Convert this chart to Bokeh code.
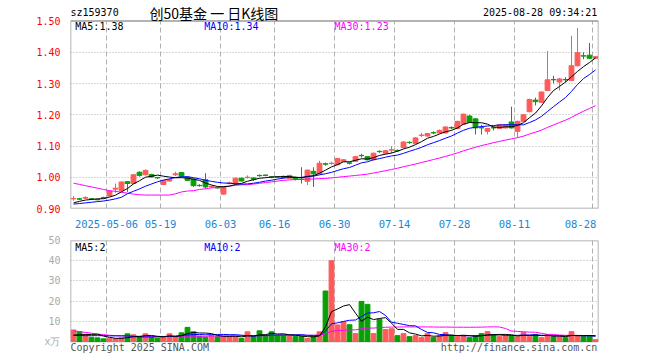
import numpy as np
import pandas as pd
from bokeh.plotting import figure
from bokeh.models import ColumnDataSource, FixedTicker, Label
from bokeh.layouts import column
from bokeh.embed import file_html
from bokeh.resources import INLINE

# ---------------- data ----------------
code = "sz159370"
title_text = "创50基金 一 日K线图"
stamp = "2025-08-28 09:34:21"

tick_idx = [6, 15, 25, 34, 44, 54, 64, 74, 87]
tick_labels = ["2025-05-06", "05-19", "06-03", "06-16", "06-30", "07-14", "07-28", "08-11", "08-28"]

opens = [0.931, 0.931, 0.933, 0.931, 0.929, 0.935, 0.940, 0.962, 0.957, 0.986,
         0.980, 1.016, 1.008, 1.009, 0.999, 0.977, 0.988, 1.008, 1.015, 1.000,
         0.994, 0.974, 0.992, 0.969, 0.967, 0.946, 0.980, 0.980, 0.997, 0.999,
         0.998, 1.006, 1.007, 1.001, 1.002, 1.003, 0.997, 1.000, 0.994, 0.987,
         1.019, 1.011, 1.043, 1.044, 1.040, 1.051, 1.046, 1.051, 1.070, 1.066,
         1.056, 1.083, 1.077, 1.087, 1.086, 1.095, 1.112, 1.108, 1.134, 1.132,
         1.143, 1.142, 1.142, 1.159, 1.156, 1.170, 1.196, 1.187, 1.159, 1.147,
         1.159, 1.156, 1.158, 1.177, 1.147, 1.179, 1.210, 1.247, 1.240, 1.278,
         1.313, 1.305, 1.313, 1.310, 1.357, 1.389, 1.391, 1.381]
highs = [0.940, 0.934, 0.939, 0.933, 0.931, 0.938, 0.957, 0.980, 0.986, 0.987,
         1.010, 1.019, 1.025, 1.011, 1.001, 0.991, 0.995, 1.018, 1.017, 1.002,
         0.996, 0.978, 1.013, 0.974, 0.970, 0.971, 0.986, 0.999, 0.999, 1.006,
         0.999, 1.009, 1.009, 1.003, 1.004, 1.005, 1.008, 1.002, 1.032, 1.024,
         1.032, 1.053, 1.047, 1.050, 1.062, 1.058, 1.049, 1.068, 1.075, 1.068,
         1.079, 1.086, 1.087, 1.100, 1.089, 1.115, 1.115, 1.128, 1.142, 1.142,
         1.147, 1.153, 1.163, 1.163, 1.181, 1.204, 1.200, 1.189, 1.168, 1.158,
         1.163, 1.170, 1.170, 1.226, 1.181, 1.202, 1.252, 1.255, 1.275, 1.404,
         1.325, 1.318, 1.320, 1.453, 1.478, 1.400, 1.430, 1.388]
lows = [0.925, 0.927, 0.930, 0.928, 0.926, 0.931, 0.939, 0.950, 0.955, 0.953,
        0.978, 1.002, 1.006, 0.999, 0.995, 0.975, 0.985, 1.004, 1.001, 0.988,
        0.969, 0.970, 0.964, 0.966, 0.963, 0.944, 0.977, 0.978, 0.986, 0.996,
        0.988, 1.002, 1.003, 0.997, 0.998, 0.997, 0.995, 0.990, 0.980, 0.975,
        0.969, 1.009, 1.037, 1.040, 1.038, 1.049, 1.041, 1.049, 1.063, 1.054,
        1.054, 1.078, 1.075, 1.076, 1.082, 1.093, 1.107, 1.106, 1.129, 1.130,
        1.138, 1.140, 1.140, 1.154, 1.154, 1.168, 1.174, 1.137, 1.137, 1.137,
        1.150, 1.154, 1.156, 1.156, 1.128, 1.177, 1.208, 1.230, 1.238, 1.276,
        1.300, 1.278, 1.305, 1.308, 1.355, 1.378, 1.379, 1.379]
closes = [0.932, 0.930, 0.935, 0.930, 0.928, 0.934, 0.956, 0.965, 0.985, 0.980,
          1.008, 1.006, 1.022, 1.001, 0.998, 0.990, 0.992, 1.011, 1.003, 0.990,
          0.973, 0.973, 0.969, 0.971, 0.966, 0.969, 0.982, 0.997, 0.988, 1.000,
          0.994, 1.005, 1.006, 1.000, 1.001, 0.999, 1.006, 0.993, 0.993, 1.023,
          1.011, 1.045, 1.042, 1.045, 1.060, 1.056, 1.045, 1.066, 1.069, 1.056,
          1.077, 1.082, 1.085, 1.088, 1.085, 1.113, 1.111, 1.126, 1.135, 1.140,
          1.142, 1.150, 1.161, 1.158, 1.179, 1.202, 1.176, 1.158, 1.158, 1.156,
          1.158, 1.168, 1.168, 1.158, 1.179, 1.200, 1.249, 1.242, 1.273, 1.312,
          1.312, 1.315, 1.312, 1.357, 1.399, 1.388, 1.381, 1.386]
volumes = [5.7, 4.8, 3.6, 2.1, 1.8, 1.3, 1.4, 1.4, 1.8, 3.8,
           3.3, 2.0, 3.8, 2.1, 1.6, 2.4, 3.8, 2.4, 4.3, 7.0,
           4.8, 2.6, 2.2, 3.0, 2.4, 2.6, 2.5, 2.5, 1.5, 4.8,
           2.4, 5.3, 3.0, 4.8, 3.0, 3.0, 2.5, 2.5, 2.5, 1.5,
           2.5, 4.8, 25.0, 40.0, 8.2, 9.8, 8.3, 3.9, 19.8, 18.4,
           3.9, 11.0, 5.9, 6.3, 2.9, 3.9, 2.4, 2.9, 1.9, 3.9,
           2.0, 2.9, 4.4, 2.9, 2.4, 2.9, 1.9, 2.9, 3.9, 4.9,
           3.4, 2.4, 2.9, 2.9, 2.4, 4.4, 2.4, 3.4, 1.9, 3.4,
           2.4, 2.4, 1.9, 4.9, 2.9, 2.4, 2.9, 0.9]

# moving-average values at the start of the window (history before the first day)
ma5_head = [0.918, 0.923, 0.927, 0.929]
ma10_head = [0.914, 0.916, 0.918, 0.920, 0.922, 0.924, 0.927, 0.931, 0.936]
ma30_head = [0.981, 0.977, 0.973, 0.969, 0.965, 0.961, 0.957, 0.955, 0.952, 0.949,
             0.946, 0.944, 0.943, 0.943, 0.943, 0.943, 0.943, 0.947, 0.953, 0.956,
             0.957, 0.961, 0.963, 0.966, 0.967, 0.970, 0.972, 0.974, 0.976]
vma5_head = [3.2, 3.3, 3.4, 3.5]
vma10_head = [3.0, 3.0, 2.9, 2.9, 2.9, 2.9, 2.8, 2.8, 2.8]
vma30_head = [5.3, 4.9, 4.5, 4.1, 3.7, 3.4, 3.1, 2.9, 2.8, 2.7,
              2.6, 2.6, 2.5, 2.5, 2.5, 2.5, 2.5, 2.5, 2.6, 2.6,
              2.6, 2.6, 2.6, 2.7, 2.7, 2.7, 2.8, 2.8, 2.9]
vol_ma_labels = ["MA5:2", "MA10:2", "MA30:2"]

price_ticks = [0.90, 1.00, 1.10, 1.20, 1.30, 1.40, 1.50]
price_grid = [1.00, 1.10, 1.20, 1.30, 1.40]
vol_ticks = [0, 10, 20, 30, 40, 50]
vol_grid = [10, 20, 30, 40]
vol_unit = "x万"

# ---------------- helpers ----------------
RED = "#ff5a5a"
GREEN = "#06a006"
FRAME = "#9a9a9a"
GRID = "#b0b0b0"
MONO = "DejaVu Sans Mono"


def ma(arr, n, head):
    s = pd.Series(arr, dtype=float).rolling(n).mean().to_numpy()
    s[:len(head)] = head
    return s


n = len(closes)
xc = np.arange(n) + 0.5
colors = [RED if c >= o else GREEN for o, c in zip(opens, closes)]

m5 = ma(closes, 5, ma5_head)
m10 = ma(closes, 10, ma10_head)
m30 = ma(closes, 30, ma30_head)
v5 = ma(volumes, 5, vma5_head)
v10 = ma(volumes, 10, vma10_head)
v30 = ma(volumes, 30, vma30_head)

src = ColumnDataSource(dict(
    x=xc, o=opens, h=highs, l=lows, c=closes,
    top=np.maximum(opens, closes), bot=np.minimum(opens, closes),
    col=colors, vol=volumes, m5=m5, m10=m10, m30=m30, v5=v5, v10=v10, v30=v30,
))

grid_pos = tick_idx
label_pos = tick_idx[:-1] + [tick_idx[-1] - 2]


def style(p, ylo, yhi, hgrid):
    p.background_fill_color = "white"
    p.border_fill_color = "white"
    p.outline_line_color = None
    p.xgrid.visible = False
    p.ygrid.ticker = FixedTicker(ticks=hgrid)
    p.ygrid.grid_line_color = GRID
    p.ygrid.grid_line_dash = "1 2"
    p.ygrid.grid_line_width = 1
    for ax in p.axis:
        ax.axis_line_color = None
        ax.major_tick_line_color = None
        ax.minor_tick_line_color = None
        ax.major_label_text_font = MONO
        ax.major_label_text_font_size = "10px"
    # vertical dashed grid limited to the chart box
    p.segment(x0=grid_pos, y0=[ylo] * len(grid_pos), x1=grid_pos, y1=[yhi] * len(grid_pos),
              line_color=GRID, line_dash="5 3", line_width=1)
    # chart box
    p.quad(left=[0], right=[n], bottom=[ylo], top=[yhi], fill_color=None,
           line_color=FRAME, line_width=1.5)


# ---------------- price panel ----------------
# frame spans canvas top (y=0px) to the price axis bottom; chart box 0.90..1.50
px_per_unit = 191 / 0.6
p1 = figure(width=660, height=230, x_range=(0, n), y_range=(0.9, 1.5 + 21 / px_per_unit),
            output_backend="svg", toolbar_location=None,
            min_border_left=70, min_border_right=62, min_border_top=0, min_border_bottom=18)
p1.yaxis.ticker = FixedTicker(ticks=price_ticks)
p1.yaxis.major_label_overrides = {t: f"{t:.2f}" for t in price_ticks}
p1.xaxis.ticker = FixedTicker(ticks=label_pos)
p1.xaxis.major_label_overrides = {pos: lab for pos, lab in zip(label_pos, tick_labels)}
style(p1, 0.9, 1.5, price_grid)
p1.yaxis.major_label_text_color = "#ff0000"
p1.yaxis.major_label_standoff = 4
p1.xaxis.major_label_text_color = "#1a86d6"
p1.xaxis.major_label_text_font_size = "10.5px"
p1.xaxis.major_label_standoff = 5

p1.segment(x0="x", y0="l", x1="x", y1="h", line_color="col", line_width=1, source=src)
p1.vbar(x="x", top="top", bottom="bot", width=0.8, fill_color="col", line_color="col",
        line_width=1, source=src)
p1.line("x", "m30", line_color="#ff00ff", line_width=1, source=src)
p1.line("x", "m10", line_color="#0000ff", line_width=1, source=src)
p1.line("x", "m5", line_color="#000000", line_width=1, source=src)

top_y = 1.5 + 8.5 / px_per_unit
p1.add_layout(Label(x=0, y=top_y, text=code, text_font=MONO, text_font_size="10px",
                    text_baseline="middle", text_align="left", text_color="#000000"))
p1.add_layout(Label(x=23.9, y=top_y, text=title_text, text_font="Noto Sans CJK SC",
                    text_font_size="14px", text_baseline="middle", text_align="center",
                    text_color="#000000"))
p1.add_layout(Label(x=87.8, y=top_y, text=stamp, text_font=MONO, text_font_size="10px",
                    text_baseline="middle", text_align="right", text_color="#000000"))
ma_y = 1.5 - 5 / px_per_unit
p1.add_layout(Label(x=0.8, y=ma_y, text=f"MA5:{m5[-1]:.2f}", text_font=MONO,
                    text_font_size="10px", text_baseline="middle", text_color="#000000"))
p1.add_layout(Label(x=22.3, y=ma_y, text=f"MA10:{m10[-1]:.2f}", text_font=MONO,
                    text_font_size="10px", text_baseline="middle", text_color="#0000ff"))
p1.add_layout(Label(x=44.0, y=ma_y, text=f"MA30:{m30[-1]:.2f}", text_font=MONO,
                    text_font_size="10px", text_baseline="middle", text_color="#ff00ff"))

# ---------------- volume panel ----------------
vpx = 101 / 50
p2 = figure(width=660, height=130, x_range=p1.x_range, y_range=(-19 / vpx, 50),
            output_backend="svg", toolbar_location=None,
            min_border_left=70, min_border_right=62, min_border_top=10, min_border_bottom=0)
p2.xaxis.visible = False
p2.yaxis.ticker = FixedTicker(ticks=vol_ticks)
p2.yaxis.major_label_overrides = {0: vol_unit}
style(p2, 0, 50, vol_grid)
p2.yaxis.major_label_text_color = "#aaaaaa"
p2.yaxis.major_label_standoff = 4

p2.vbar(x="x", top="vol", bottom=0, width=0.8, fill_color="col", line_color="col",
        line_width=1, source=src)
p2.line("x", "v30", line_color="#ff00ff", line_width=1, source=src)
p2.line("x", "v10", line_color="#0000ff", line_width=1, source=src)
p2.line("x", "v5", line_color="#000000", line_width=1, source=src)

vma_y = 50 - 7 / vpx
for xx, txt, colr in zip([0.8, 22.3, 44.0], vol_ma_labels, ["#000000", "#0000ff", "#ff00ff"]):
    p2.add_layout(Label(x=xx, y=vma_y, text=txt, text_font=MONO, text_font_size="10px",
                        text_baseline="middle", text_color=colr))
foot_y = -5.5 / vpx
p2.add_layout(Label(x=0, y=foot_y, text="Copyright 2025 SINA.COM", text_font=MONO,
                    text_font_size="10px", text_baseline="middle", text_color="#555555"))
p2.add_layout(Label(x=87.8, y=foot_y, text="http://finance.sina.com.cn", text_font=MONO,
                    text_font_size="10px", text_baseline="middle", text_align="right",
                    text_color="#555555"))

layout = column(p1, p2, spacing=0)
open("out.html", "w").write(file_html(layout, INLINE))
